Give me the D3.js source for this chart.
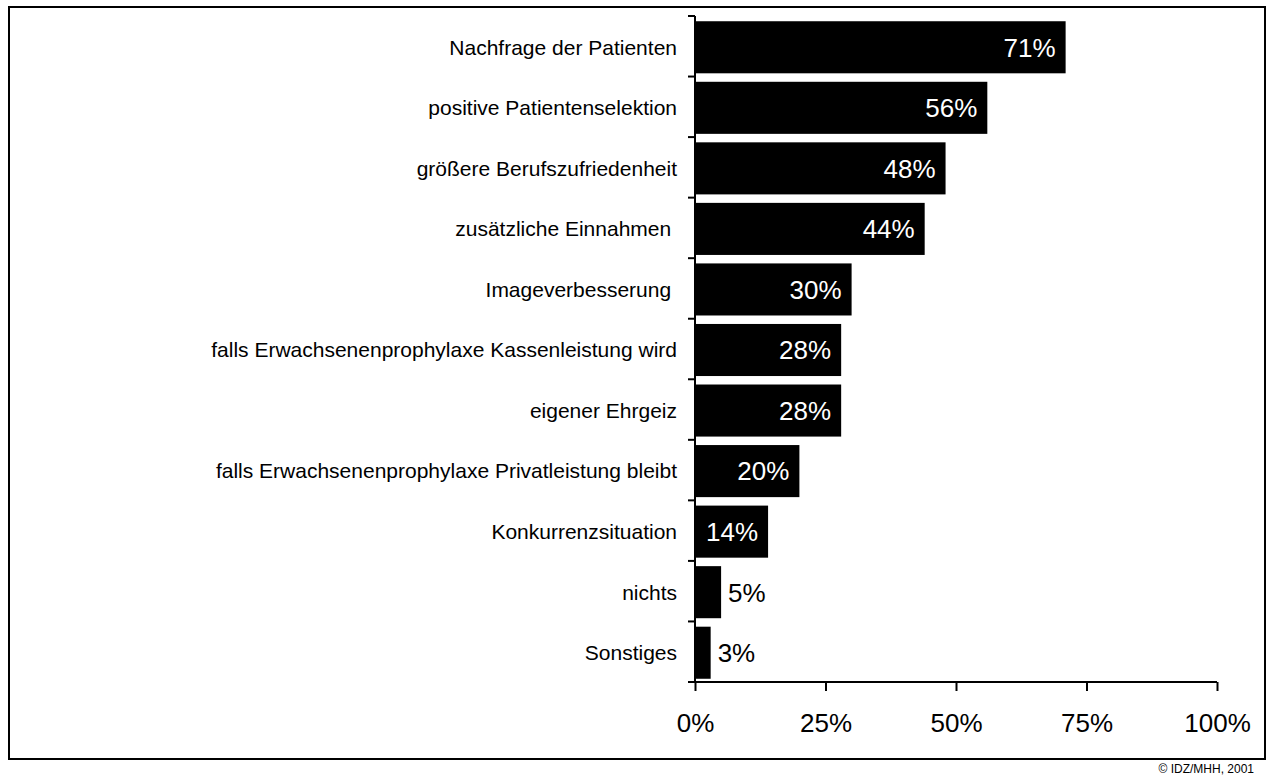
<!DOCTYPE html>
<meta charset="utf-8">
<style>
body { margin: 0; background: #fff; }
text { font-family: "Liberation Sans", Arial, sans-serif; }
</style>
<svg id="chart"></svg>
<script src="https://cdnjs.cloudflare.com/ajax/libs/d3/7.8.5/d3.min.js"></script>
<script>

// data
var categories = [
    'Nachfrage der Patienten',
    'positive Patientenselektion',
    'größere Berufszufriedenheit',
    'zusätzliche Einnahmen ',
    'Imageverbesserung ',
    'falls Erwachsenenprophylaxe Kassenleistung wird',
    'eigener Ehrgeiz',
    'falls Erwachsenenprophylaxe Privatleistung bleibt',
    'Konkurrenzsituation',
    'nichts',
    'Sonstiges'
]
var values = [71, 56, 48, 44, 30, 28, 28, 20, 14, 5, 3]
var xTicks = [0, 25, 50, 75, 100]
var credit = '© IDZ/MHH, 2001'

var width = 1269,
    height = 776

var data = categories.map(function (c, i) { return {cat: c, v: values[i]} })

var svg = d3.select('#chart')
            .attr('width', width)
            .attr('height', height)

// outer frame
svg.append('rect')
    .attr('x', 9)
    .attr('y', 7)
    .attr('width', 1256)
    .attr('height', 752)
    .attr('fill', 'none')
    .attr('stroke', '#000')
    .attr('stroke-width', 2)

var x = d3.scaleLinear().domain([0, 100]).range([695, 1217])
var y = d3.scaleBand().domain(categories).range([16, 682])
            .paddingInner(0.14).paddingOuter(0.07)

// bars
svg.append('g').selectAll('rect')
    .data(data)
    .enter()
    .append('rect')
    .attr('x', x(0))
    .attr('y', (d) => y(d.cat) + 1)
    .attr('width', (d) => x(d.v) - x(0))
    .attr('height', y.bandwidth())
    .attr('fill', '#000')

// value labels: white inside the bar, black outside for the small ones
svg.append('g').selectAll('text')
    .data(data)
    .enter()
    .append('text')
    .attr('x', (d) => d.v >= 10 ? x(d.v) - 10 : x(d.v) + 7)
    .attr('y', (d) => y(d.cat) + 1 + y.bandwidth() / 2)
    .attr('dy', '0.36em')
    .attr('text-anchor', (d) => d.v >= 10 ? 'end' : 'start')
    .attr('fill', (d) => d.v >= 10 ? '#fff' : '#000')
    .style('font-size', '26px')
    .text((d) => d.v + '%')

// y axis: line + ticks on the band boundaries
var step = y.step()
var yAxis = svg.append('g')
yAxis.append('line')
    .attr('x1', x(0)).attr('x2', x(0))
    .attr('y1', y.range()[0]).attr('y2', y.range()[1])
    .attr('stroke', '#000').attr('stroke-width', 2)
var bounds = d3.range(categories.length + 1).map((i) => y.range()[0] + i * step)
yAxis.selectAll('.tk')
    .data(bounds)
    .enter()
    .append('line')
    .attr('class', 'tk')
    .attr('x1', x(0) - 7).attr('x2', x(0))
    .attr('y1', (d) => d).attr('y2', (d) => d)
    .attr('stroke', '#000').attr('stroke-width', 2)

// category labels
yAxis.selectAll('.lbl')
    .data(categories)
    .enter()
    .append('text')
    .attr('class', 'lbl')
    .attr('x', x(0) - 18)
    .attr('y', (d) => y(d) + 1 + y.bandwidth() / 2)
    .attr('dy', '0.35em')
    .attr('text-anchor', 'end')
    .style('font-size', '21px')
    .style('white-space', 'pre')
    .text((d) => d)

// x axis
var gX = svg.append('g')
    .attr('transform', 'translate(0,' + y.range()[1] + ')')
    .call(d3.axisBottom(x).tickValues(xTicks).tickSize(9).tickSizeOuter(0)
            .tickPadding(23).tickFormat((d) => d + '%'))
gX.select('.domain').remove()
gX.append('line')
    .attr('x1', x(0) - 7).attr('x2', x(100))
    .attr('stroke', '#000').attr('stroke-width', 2)
gX.selectAll('.tick line').attr('stroke-width', 2)
gX.selectAll('.tick text')
    .attr('fill', '#000')
    .style('font-family', '"Liberation Sans", Arial, sans-serif')
    .style('font-size', '26px')

// credit line
svg.append('text')
    .attr('x', 1254)
    .attr('y', 773)
    .attr('text-anchor', 'end')
    .style('font-size', '12px')
    .text(credit)

</script>
